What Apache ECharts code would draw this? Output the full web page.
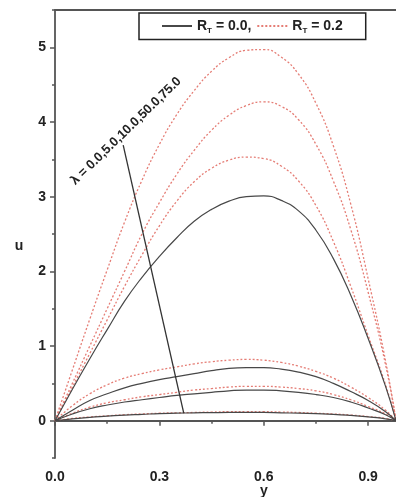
<!DOCTYPE html>
<html>
<head>
<meta charset="utf-8">
<script src="https://cdn.jsdelivr.net/npm/echarts@6/dist/echarts.min.js"></script>
<style>
  html, body { margin: 0; padding: 0; background: #fff; }
  #chart { width: 396px; height: 497px; }
</style>
</head>
<body>
<div id="chart"></div>
<script>
// y positions across the channel
var yPos = [0, 0.05, 0.1, 0.15, 0.2, 0.25, 0.3, 0.35, 0.4, 0.45, 0.5, 0.55, 0.6, 0.65, 0.7, 0.75, 0.8, 0.85, 0.9, 0.95, 0.98];

// R_T = 0.2 (red dotted)
var red1 = [0, 0.68, 1.36, 2.02, 2.66, 3.22, 3.70, 4.10, 4.42, 4.68, 4.86, 4.96, 4.97, 4.87, 4.64, 4.25, 3.68, 2.90, 1.90, 0.80, 0];
var red2 = [0, 0.50, 1.00, 1.50, 2.00, 2.50, 2.92, 3.30, 3.62, 3.89, 4.09, 4.22, 4.27, 4.21, 4.03, 3.70, 3.21, 2.56, 1.72, 0.75, 0];
var red3 = [0, 0.45, 0.90, 1.35, 1.80, 2.22, 2.61, 2.94, 3.20, 3.38, 3.49, 3.53, 3.51, 3.41, 3.21, 2.88, 2.40, 1.80, 1.14, 0.48, 0];
var red4 = [0, 0.20, 0.36, 0.48, 0.57, 0.63, 0.68, 0.72, 0.76, 0.79, 0.81, 0.82, 0.81, 0.78, 0.73, 0.66, 0.57, 0.45, 0.31, 0.14, 0];
var red5 = [0, 0.10, 0.18, 0.24, 0.28, 0.32, 0.35, 0.38, 0.41, 0.43, 0.45, 0.46, 0.46, 0.45, 0.43, 0.40, 0.35, 0.28, 0.19, 0.09, 0];
var red6 = [0, 0.03, 0.05, 0.065, 0.08, 0.09, 0.10, 0.105, 0.11, 0.115, 0.12, 0.12, 0.12, 0.115, 0.11, 0.10, 0.09, 0.075, 0.055, 0.03, 0];

// R_T = 0.0 (dark solid)
var blk1 = [0, 0.42, 0.83, 1.22, 1.60, 1.92, 2.20, 2.45, 2.67, 2.83, 2.94, 3.00, 3.01, 2.95, 2.81, 2.55, 2.17, 1.68, 1.10, 0.46, 0];
var blk2 = [0, 0.14, 0.27, 0.36, 0.44, 0.50, 0.55, 0.59, 0.63, 0.67, 0.70, 0.71, 0.71, 0.69, 0.65, 0.59, 0.50, 0.39, 0.27, 0.12, 0];
var blk3 = [0, 0.09, 0.16, 0.21, 0.25, 0.28, 0.31, 0.34, 0.36, 0.38, 0.40, 0.41, 0.41, 0.40, 0.38, 0.35, 0.31, 0.25, 0.17, 0.08, 0];
var blk4 = [0, 0.025, 0.045, 0.06, 0.075, 0.085, 0.095, 0.10, 0.105, 0.108, 0.11, 0.11, 0.11, 0.105, 0.10, 0.093, 0.085, 0.07, 0.05, 0.025, 0];

var xTicks = [0, 0.3, 0.6, 0.9];
var xMinor = [0.15, 0.45, 0.75];
var yTicks = [0, 1, 2, 3, 4, 5];
var yMinor = [-0.5, 0.5, 1.5, 2.5, 3.5, 4.5, 5.5];

// arrow through the lambda family
var arrowFrom = [0.37, 0.1];
var arrowTo = [0.196, 3.69];

var nameBlack = 'R_T = 0.0,';
var nameRed = 'R_T = 0.2';

function pairs(vals) {
  return yPos.map(function (y, i) { return [y, vals[i]]; });
}

var chart = echarts.init(document.getElementById('chart'));

var font = 'Arial, "Liberation Sans", sans-serif';
var axisGray = '#555';
var blackCol = '#484848';
var redCol = '#e57d75';

function blackSeries(vals) {
  return {
    name: nameBlack, type: 'line', data: pairs(vals), smooth: 0.5,
    symbol: 'none', lineStyle: { color: blackCol, width: 1.2 }, itemStyle: { color: blackCol },
    z: 3
  };
}
function redSeries(vals) {
  return {
    name: nameRed, type: 'line', data: pairs(vals), smooth: 0.5,
    symbol: 'none', lineStyle: { color: redCol, width: 1.3, type: [2, 2] }, itemStyle: { color: redCol },
    z: 2
  };
}

var series = [
  redSeries(red1), redSeries(red2), redSeries(red3), redSeries(red4), redSeries(red5), redSeries(red6),
  blackSeries(blk1), blackSeries(blk2), blackSeries(blk3), blackSeries(blk4)
];
series[6].markLine = {
  silent: true,
  animation: false,
  symbol: ['none', 'arrow'],
  symbolSize: [0, 7],
  label: { show: false },
  lineStyle: { color: '#333', width: 1.3, type: 'solid' },
  data: [[{ coord: arrowFrom }, { coord: arrowTo }]]
};

var option = {
  animation: false,
  backgroundColor: '#fff',
  textStyle: { fontFamily: font },
  grid: { left: 55, right: 0, top: 10, bottom: 39 },
  legend: {
    data: [nameBlack, nameRed],
    left: 139, top: 13,
    borderColor: '#222', borderWidth: 1.5,
    padding: [6, 23, 5, 22],
    itemWidth: 30, itemHeight: 10, itemGap: 5,
    itemStyle: { opacity: 0 },
    formatter: function (n) {
      return '{r|R}{s|T}{r|' + n.slice(3) + '}';
    },
    textStyle: {
      rich: {
        r: { fontFamily: font, fontWeight: 'bold', fontSize: 14, color: '#222' },
        s: { fontFamily: font, fontWeight: 'bold', fontSize: 8, color: '#222', padding: [9, 0, 0, 0] }
      }
    }
  },
  xAxis: [
    {
      type: 'value', min: 0, max: 0.98, position: 'bottom',
      axisLine: { show: true, lineStyle: { color: axisGray, width: 1.8 } },
      axisTick: { show: true, length: 5, customValues: xTicks, lineStyle: { color: axisGray, width: 1.5 } },
      axisLabel: {
        customValues: xTicks, margin: 12,
        formatter: function (v) { return v.toFixed(1); },
        fontFamily: font, fontWeight: 'bold', fontSize: 14, color: '#222'
      },
      splitLine: { show: false }
    },
    {
      type: 'value', min: 0, max: 0.98, position: 'bottom',
      axisLine: { show: false },
      axisTick: { show: true, length: 3, customValues: xMinor, lineStyle: { color: axisGray, width: 1.5 } },
      axisLabel: { show: false },
      splitLine: { show: false }
    },
    {
      type: 'value', min: 0, max: 0.98, position: 'top',
      axisLine: { show: true, lineStyle: { color: axisGray, width: 1.8 } },
      axisTick: { show: false }, axisLabel: { show: false }, splitLine: { show: false }
    }
  ],
  yAxis: [
    {
      type: 'value', min: -0.5, max: 5.5, position: 'left',
      axisLine: { show: true, lineStyle: { color: axisGray, width: 1.8 } },
      axisTick: { show: true, length: 5, customValues: yTicks, lineStyle: { color: axisGray, width: 1.5 } },
      axisLabel: {
        customValues: yTicks, margin: 9,
        fontFamily: font, fontWeight: 'bold', fontSize: 14, color: '#222'
      },
      splitLine: { show: false }
    },
    {
      type: 'value', min: -0.5, max: 5.5, position: 'left',
      axisLine: { show: false },
      axisTick: { show: true, length: 3, customValues: yMinor, lineStyle: { color: axisGray, width: 1.5 } },
      axisLabel: { show: false },
      splitLine: { show: false }
    }
  ],
  graphic: [
    {
      type: 'text', x: 264, y: 491, silent: true,
      style: { text: 'y', fontFamily: font, fontWeight: 'bold', fontSize: 14, fill: '#222', align: 'center', verticalAlign: 'middle' }
    },
    {
      type: 'text', x: 19, y: 246, silent: true,
      style: { text: 'u', fontFamily: font, fontWeight: 'bold', fontSize: 14, fill: '#222', align: 'center', verticalAlign: 'middle' }
    },
    {
      type: 'text', x: 126, y: 131, rotation: 0.77, silent: true,
      style: { text: 'λ = 0.0,5.0,10.0,50.0,75.0', fontFamily: font, fontWeight: 'bold', fontSize: 13, fill: '#222', align: 'center', verticalAlign: 'middle' }
    }
  ],
  series: series
};

chart.setOption(option);
</script>
</body>
</html>
